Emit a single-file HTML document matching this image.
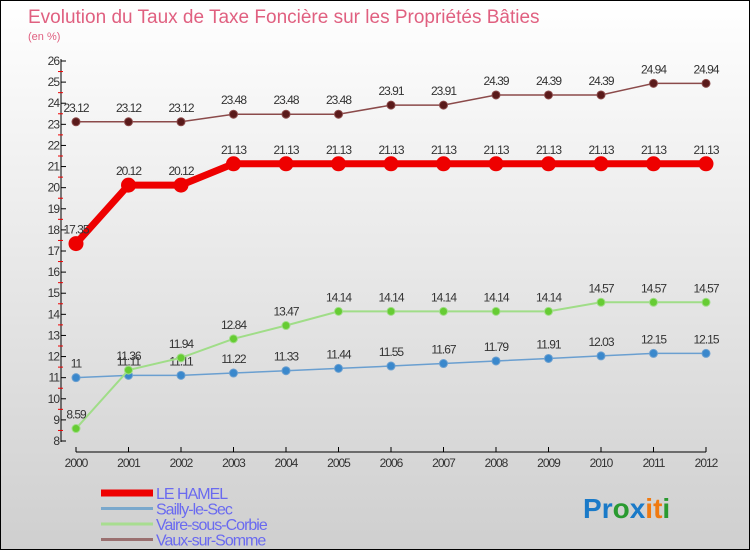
<!DOCTYPE html>
<html><head><meta charset="utf-8"><style>
body{margin:0}
#c{width:750px;height:550px;position:relative;box-sizing:border-box;border:1px solid #000;background:linear-gradient(#fff,#cfcfcf);font-family:"Liberation Sans",sans-serif;overflow:hidden}
</style></head><body>
<div id="c">
<svg id="s" width="748" height="548" style="position:absolute;left:0;top:0">
<text x="27" y="22" font-size="19" fill="#e06080">Evolution du Taux de Taxe Foncière sur les Propriétés Bâties</text>
<text x="27" y="39" font-size="11" fill="#e06080">(en %)</text>
<g id="ax"></g><g id="ser"></g>
<text x="582" y="517" font-size="28" font-weight="bold"><tspan fill="#1a7ac8">P</tspan><tspan fill="#1a7ac8">r</tspan><tspan fill="#2a9a30">o</tspan><tspan fill="#1a7ac8">x</tspan><tspan fill="#f07a10">i</tspan><tspan fill="#f07a10">t</tspan><tspan fill="#2a9a30">i</tspan></text>
</svg>
</div>
<script>
const years=[2000,2001,2002,2003,2004,2005,2006,2007,2008,2009,2010,2011,2012];
const hamel=[17.35,20.12,20.12,21.13,21.13,21.13,21.13,21.13,21.13,21.13,21.13,21.13,21.13];
const sailly=[11,11.11,11.11,11.22,11.33,11.44,11.55,11.67,11.79,11.91,12.03,12.15,12.15];
const vaire=[8.59,11.36,11.94,12.84,13.47,14.14,14.14,14.14,14.14,14.14,14.57,14.57,14.57];
const vaux=[23.12,23.12,23.12,23.48,23.48,23.48,23.91,23.91,24.39,24.39,24.39,24.94,24.94];
const yTicks=[8,9,10,11,12,13,14,15,16,17,18,19,20,21,22,23,24,25,26];
const NS="http://www.w3.org/2000/svg";
const X=i=>75+i*52.5, Y=v=>440-(v-8)*(380/18);
function mk(p,t,a){const e=document.createElementNS(NS,t);for(const k in a)e.setAttribute(k,a[k]);p.appendChild(e);return e;}
const ax=document.getElementById('ax'), ser=document.getElementById('ser');
const yl=mk(ax,'line',{x1:60,y1:58,x2:60,y2:441,stroke:'#000'});


yTicks.forEach(v=>{
 mk(ax,'line',{x1:60,y1:Y(v),x2:65,y2:Y(v),stroke:'#000'});
 if(v<26) mk(ax,'line',{x1:57,y1:Y(v+0.5),x2:62,y2:Y(v+0.5),stroke:'#e00'});
 const t=mk(ax,'text',{x:58,y:Y(v)+4,'font-size':12,fill:'#333','text-anchor':'end','letter-spacing':'-1'});
 t.textContent=v;
 
 
});
const xl=mk(ax,'line',{x1:75,y1:451,x2:705,y2:451,stroke:'#000'});


years.forEach((y,i)=>{
 mk(ax,'line',{x1:X(i),y1:446,x2:X(i),y2:451,stroke:'#000'});
 const t=mk(ax,'text',{x:X(i),y:466,'font-size':12,fill:'#333','text-anchor':'middle','letter-spacing':'-1'});
 t.textContent=y;
 
 
});
function series(d,col,dot,w,r,name){
 const g=mk(ser,'g',{});
 
 
 mk(g,'polyline',{points:d.map((v,i)=>X(i)+','+Y(v)).join(' '),fill:'none',stroke:col,'stroke-width':w});
 d.forEach((v,i)=>{
  const c=mk(g,'circle',{cx:X(i),cy:Y(v),r:r,fill:dot,stroke:col});
  
  
  const t=mk(g,'text',{x:X(i),y:Y(v)-10,'font-size':12,fill:'#333','text-anchor':'middle','letter-spacing':'-1'});
  t.textContent=v;
  
  
 });
}
series(vaux,'#8b4a4a','#5a1a1a',1.5,4,'series-vaux');
series(sailly,'#6a9fd0','#3a88cc',1.5,4,'series-sailly');
series(vaire,'#a0dd88','#66cc33',2,4,'series-vaire');
series(hamel,'#ee0000','#ee0000',7,7,'series-hamel');
const leg=[['LE HAMEL','#ee0000',7],['Sailly-le-Sec','#7aa8cc',3],['Vaire-sous-Corbie','#a8dd90',3],['Vaux-sur-Somme','#9a7070',3]];
leg.forEach((l,i)=>{
 const g=mk(document.getElementById('s'),'g',{});
 
 
 const yy=492+i*15.5;
 mk(g,'line',{x1:100,y1:yy,x2:152,y2:yy,stroke:l[1],'stroke-width':l[2]});
 const t=mk(g,'text',{x:155,y:yy+6,'font-size':16,fill:'#6a6af0','letter-spacing':'-1'});
 t.textContent=l[0];
});
</script>
</body></html>
